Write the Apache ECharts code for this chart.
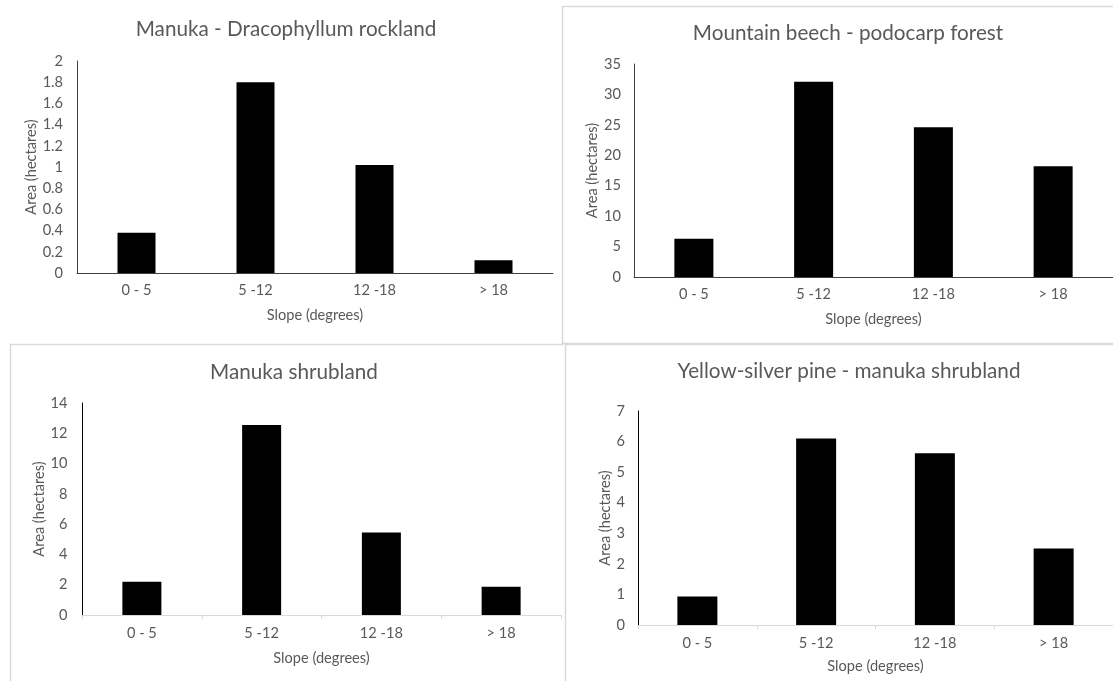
<!DOCTYPE html>
<html>
<head>
<meta charset="utf-8">
<script src="https://cdn.jsdelivr.net/npm/echarts@6/dist/echarts.min.js"></script>
<style>
html,body{margin:0;padding:0;background:#fff;}
#c{width:1113px;height:681px;}
</style>
</head>
<body>
<div id="c"></div>
<script>
// ---- data ----
const categories = ['0 - 5', '5 -12', '12 -18', '> 18'];
const panelTitles = ['Manuka - Dracophyllum rockland', 'Mountain beech - podocarp forest', 'Manuka shrubland', 'Yellow-silver pine - manuka shrubland'];
const rocklandValues = [0.38, 1.8, 1.02, 0.12];
const beechValues = [6.3, 32.1, 24.6, 18.2];
const shrublandValues = [2.2, 12.55, 5.45, 1.87];
const pineValues = [0.93, 6.1, 5.62, 2.5];
const xAxisTitle = 'Slope (degrees)';
const yAxisTitle = 'Area (hectares)';

// ---- layout/style ----
const FONT = 'Lato, "Open Sans", sans-serif';
const TXT = '#595959';
const FS = 14.6;
const TFS = 20.7;
const panels = [
  {values: rocklandValues, grid: {left: 77, top: 61, width: 476, height: 212}, max: 2, interval: 0.2,
   titleX: 281, titleY: 28, yGap: 37, xGap: 34.5, yLabMargin: 14, xLabMargin: 9.5, barW: 38,
   yLine: '#404040', xLine: '#404040', xTicks: false},
  {values: beechValues, grid: {left: 634, top: 64, width: 482, height: 213}, max: 35, interval: 5,
   titleX: 843, titleY: 32, yGap: 33.5, xGap: 34.5, yLabMargin: 13, xLabMargin: 9.5, barW: 39,
   yLine: '#404040', xLine: '#404040', xTicks: false},
  {values: shrublandValues, grid: {left: 82, top: 403, width: 479, height: 212}, max: 14, interval: 2,
   titleX: 289, titleY: 371, yGap: 33.5, xGap: 35.5, yLabMargin: 14.5, xLabMargin: 10.5, barW: 39,
   yLine: '#000000', xLine: '#d9d9d9', xTicks: true},
  {values: pineValues, grid: {left: 638, top: 411, width: 494, height: 214}, max: 7, interval: 1,
   titleX: 844, titleY: 370, yGap: 24.5, xGap: 33.5, yLabMargin: 13, xLabMargin: 10.5, barW: 40,
   yLine: '#000000', xLine: '#d9d9d9', xTicks: true}
];

const frameStyle = {fill: 'none', stroke: '#d9d9d9', lineWidth: 1.5};
const option = {
  animation: false,
  backgroundColor: '#ffffff',
  textStyle: {fontFamily: FONT},
  title: panels.map((p, i) => ({
    text: panelTitles[i],
    left: p.titleX, top: p.titleY - 14, textAlign: 'center',
    textStyle: {fontFamily: FONT, fontSize: TFS, fontWeight: 'normal', color: TXT}
  })),
  graphic: [
    {type: 'rect', shape: {x: 562.5, y: 6.5, width: 600, height: 337}, style: frameStyle, silent: true, z: -1},
    {type: 'polyline', shape: {points: [[10.5, 700], [10.5, 344.5], [563, 344.5]]}, style: frameStyle, silent: true, z: -1},
    {type: 'rect', shape: {x: 565.5, y: 344.5, width: 600, height: 400}, style: frameStyle, silent: true, z: -1}
  ],
  grid: panels.map(p => Object.assign({containLabel: false}, p.grid)),
  xAxis: panels.map((p, i) => ({
    type: 'category', gridIndex: i, data: categories,
    axisLine: {show: true, lineStyle: {color: p.xLine, width: 1}},
    axisTick: {show: p.xTicks, length: 4, lineStyle: {color: '#d9d9d9'}},
    axisLabel: {color: TXT, fontSize: FS, fontFamily: FONT, margin: p.xLabMargin},
    name: xAxisTitle, nameLocation: 'middle', nameGap: p.xGap,
    nameTextStyle: {color: TXT, fontSize: FS, fontFamily: FONT}
  })),
  yAxis: panels.map((p, i) => ({
    type: 'value', gridIndex: i, min: 0, max: p.max, interval: p.interval,
    axisLine: {show: true, lineStyle: {color: p.yLine, width: 1}},
    axisTick: {show: false},
    splitLine: {show: false},
    axisLabel: {color: TXT, fontSize: FS, fontFamily: FONT, margin: p.yLabMargin},
    name: yAxisTitle, nameLocation: 'middle', nameGap: p.yGap,
    nameTextStyle: {color: TXT, fontSize: FS, fontFamily: FONT}
  })),
  series: panels.map((p, i) => ({
    type: 'bar', xAxisIndex: i, yAxisIndex: i, data: p.values,
    barWidth: p.barW,
    itemStyle: {color: '#000000'}
  }))
};

const chart = echarts.init(document.getElementById('c'), null, {renderer: 'canvas'});
chart.setOption(option);
</script>
</body>
</html>
